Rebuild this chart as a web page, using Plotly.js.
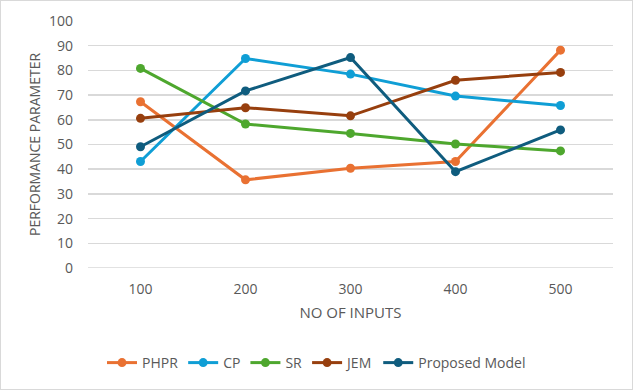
<!DOCTYPE html>
<html><head><meta charset="utf-8">
<script src="https://cdn.plot.ly/plotly-3.0.1.min.js"></script>
<style>html,body{margin:0;padding:0;background:#fff}#wrap{width:631px;height:388px;border:1px solid #d9d9d9}#chart{width:631px;height:388px}</style>
</head><body><div id="wrap"><div id="chart"></div></div>
<script>
const categories = ["100", "200", "300", "400", "500"];
const seriesNames = ["PHPR", "CP", "SR", "JEM", "Proposed Model"];
const phpr = [67.3, 35.7, 40.4, 43.1, 88.2];
const cp = [43.1, 84.8, 78.5, 69.6, 65.8];
const sr = [80.8, 58.3, 54.5, 50.2, 47.4];
const jem = [60.6, 64.9, 61.6, 76.0, 79.2];
const proposed = [49.1, 71.7, 85.2, 39.0, 55.9];
const yTicks = [0, 10, 20, 30, 40, 50, 60, 70, 80, 90, 100];
const colors = ["#E97132", "#0F9ED5", "#4EA72E", "#973F0E", "#0F5C7E"];
const values = [phpr, cp, sr, jem, proposed];
const font = "Open Sans, Liberation Sans, sans-serif";

const traces = values.map((v, i) => ({
  type: "scatter", mode: "lines+markers", name: seriesNames[i],
  x: categories, y: v,
  line: {color: colors[i], width: 3},
  marker: {color: colors[i], size: 9, symbol: "circle"}
}));

const layout = {
  width: 631, height: 388,
  margin: {l: 87, r: 19, t: 19.5, b: 120.7},
  paper_bgcolor: "#fff", plot_bgcolor: "#fff",
  font: {family: font, size: 14, color: "#595959"},
  showlegend: true,
  legend: {orientation: "h", xref: "container", yref: "container", x: 0.5, xanchor: "center", y: 0.067, yanchor: "middle", font: {size: 14, color: "#595959"}},
  xaxis: {type: "category", range: [-0.5, 4.5], showgrid: false, zeroline: false, showline: false, ticks: "", ticklabelstandoff: 11, tickfont: {size: 14},
    title: {text: "NO OF INPUTS", font: {size: 15, color: "#595959"}, standoff: 10}},
  yaxis: {range: [0, 100], tickvals: yTicks, ticktext: yTicks.map(String), showgrid: true, gridcolor: "#D9D9D9", gridwidth: 1.5, zeroline: false, showline: false, ticks: "", ticklabelstandoff: 14, tickfont: {size: 14},
    title: {text: "PERFORMANCE PARAMETER", font: {size: 14, color: "#595959"}, standoff: 5}},
  shapes: [{type: "line", xref: "paper", yref: "y", x0: 0, x1: 1, y0: 0, y1: 0, line: {color: "#D9D9D9", width: 1.5}, layer: "below"}]
};
Plotly.newPlot("chart", traces, layout, {displayModeBar: false, staticPlot: true});
</script></body></html>
